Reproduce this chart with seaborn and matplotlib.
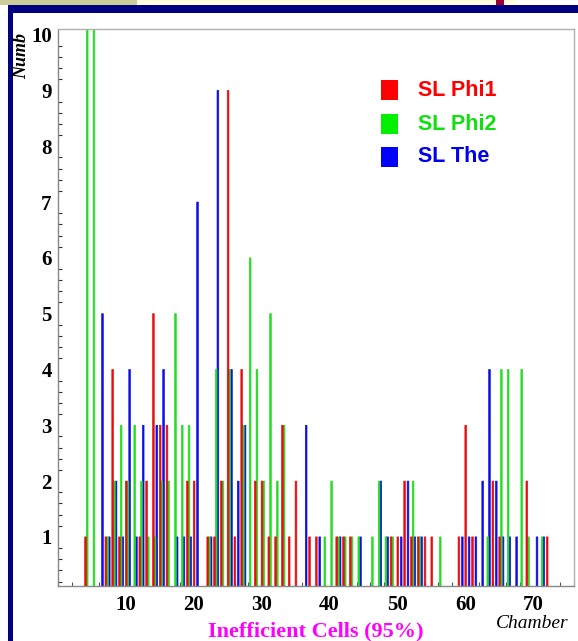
import numpy as np
import pandas as pd
import matplotlib
matplotlib.use("Agg")
import matplotlib.pyplot as plt
from matplotlib.patches import Rectangle
from matplotlib.ticker import MultipleLocator
import seaborn as sns

# ---------------- data ----------------
series_names = ["SL Phi1", "SL Phi2", "SL The"]

phi1_chambers = [4, 7, 8, 9, 10, 12, 13, 14, 15, 16, 19, 20, 22, 23, 24, 25, 26, 27,
                 29, 30, 31, 32, 33, 34, 35, 37, 38, 41, 42, 43, 49, 50, 51, 52, 53,
                 54, 55, 59, 60, 61, 64, 65, 69, 72]
phi1_counts = [1, 1, 4, 1, 2, 1, 2, 5, 3, 3, 2, 2, 1, 1, 2, 9, 1, 4,
               2, 2, 1, 1, 3, 1, 2, 1, 1, 1, 1, 1, 1, 1, 2, 1, 1,
               1, 1, 1, 3, 1, 2, 1, 2, 1]

phi2_chambers = [4, 5, 7, 8, 9, 10, 11, 12, 13, 14, 15, 16, 17, 18, 19, 22, 23, 24,
                 25, 27, 28, 29, 30, 31, 32, 33, 39, 40, 41, 42, 43, 44, 46, 47, 48,
                 49, 52, 53, 56, 63, 65, 66, 68, 69, 71]
phi2_counts = [12, 12, 1, 2, 3, 2, 3, 2, 1, 1, 2, 2, 5, 3, 3, 1, 4, 2,
               4, 3, 6, 4, 2, 5, 2, 3, 1, 2, 1, 1, 1, 1, 1, 2, 1,
               1, 2, 1, 1, 1, 4, 4, 4, 1, 1]

the_chambers = [6, 7, 8, 9, 10, 11, 12, 14, 15, 17, 18, 19, 20, 22, 23, 25, 26, 27,
                36, 38, 41, 44, 47, 48, 50, 51, 52, 53, 59, 60, 61, 62, 63, 64, 65,
                66, 67, 70, 71]
the_counts = [5, 1, 2, 1, 4, 1, 3, 3, 4, 1, 1, 1, 7, 1, 9, 4, 2, 3,
              3, 1, 1, 1, 2, 1, 1, 2, 1, 1, 1, 1, 1, 2, 4, 2, 1,
              1, 1, 1, 1]

y_ticks = [1, 2, 3, 4, 5, 6, 7, 8, 9, 10]
x_ticks = [10, 20, 30, 40, 50, 60, 70]

df = pd.concat([
    pd.DataFrame({"chamber": phi1_chambers, "count": phi1_counts, "series": series_names[0]}),
    pd.DataFrame({"chamber": phi2_chambers, "count": phi2_counts, "series": series_names[1]}),
    pd.DataFrame({"chamber": the_chambers, "count": the_counts, "series": series_names[2]}),
], ignore_index=True)

# ---------------- style ----------------
sns.set_theme(style="white")
plt.rcParams["font.family"] = ["Liberation Serif", "DejaVu Serif"]

bar_colors = {"SL Phi1": "#e80c0c", "SL Phi2": "#22dd22", "SL The": "#0c0ce8"}
legend_box_colors = ["#ff0000", "#00f000", "#0000ff"]
legend_text_colors = ["#ff0000", "#10e010", "#0000ee"]

W, H = 578, 641
fig = plt.figure(figsize=(W / 100, H / 100), dpi=100)
fig.patch.set_facecolor("white")

def px_rect(x0, y0, x1, y1, color):
    fig.add_artist(Rectangle((x0 / W, 1 - y1 / H), (x1 - x0) / W, (y1 - y0) / H,
                             transform=fig.transFigure, facecolor=color,
                             edgecolor="none", zorder=0))

# window decoration
px_rect(0, 0, 137, 5, "#cccc99")
px_rect(137, 0, 516, 5, "#ffffe0")
px_rect(496, 0, 504, 5, "#990033")
px_rect(8, 5, W, 13, "#000080")
px_rect(8, 5, 13, H, "#000080")

ax = fig.add_axes([58 / W, 1 - 586 / H, (574 - 58) / W, (586 - 29) / H])
ax.set_facecolor("white")

sns.histplot(data=df, x="chamber", weights="count", hue="series",
             hue_order=series_names, palette=bar_colors,
             binwidth=1.0, binrange=(-0.2, 76.8), multiple="dodge", shrink=0.75,
             linewidth=0, alpha=1.0, legend=False, ax=ax)

# make the thin bars render as solid coloured strokes
for p in ax.patches:
    fc = p.get_facecolor()
    p.set_edgecolor(fc)
    p.set_linewidth(0.45)
    p.set_snap(False)
    p.set_antialiased(True)

ax.set_xlim(0, 76)
ax.set_ylim(0.12, 10.1)
ax.set_xlabel("")
ax.set_ylabel("")

ax.set_yticks(y_ticks)
ax.set_yticklabels([str(v) for v in y_ticks])
ax.yaxis.set_minor_locator(MultipleLocator(0.2))
ax.set_xticks(x_ticks)
ax.set_xticklabels([str(v) for v in x_ticks])
ax.xaxis.set_minor_locator(MultipleLocator(2))

ax.tick_params(axis="y", which="major", direction="in", length=7.5, width=1,
               color="#333333", pad=4.5, labelsize=15)
ax.tick_params(axis="y", which="minor", direction="in", length=3, width=0.8,
               color="#333333", left=True)
ax.tick_params(axis="x", which="major", direction="in", length=5, width=1,
               color="#333333", pad=6.5, labelsize=15)
ax.tick_params(axis="x", which="minor", direction="in", length=3, width=0.8,
               color="#555555", bottom=True)
for lab in ax.get_xticklabels() + ax.get_yticklabels():
    lab.set_fontweight("bold")
    lab.set_color("black")

for side, sp in ax.spines.items():
    sp.set_color("#b0b0b0")
    sp.set_linewidth(1.0)
ax.spines["bottom"].set_color("#888888")
ax.spines["left"].set_color("#888888")

# axis titles
fig.text(22 / W, 1 - 33 / H, "Numb", rotation=90, ha="center", va="top",
         fontsize=13, fontweight="bold", fontstyle="italic", color="black")
fig.text(569 / W, 1 - 628 / H, "Chamber", ha="right", va="baseline",
         fontsize=14, fontstyle="italic", color="black")
fig.text(316 / W, 1 - 636 / H, "Inefficient Cells (95%)", ha="center", va="baseline",
         fontsize=16, fontweight="bold", color="#ff00ff")

# legend
legend_y = [90, 124, 157]
for name, yc, bc, tc in zip(series_names, legend_y, legend_box_colors, legend_text_colors):
    fig.add_artist(Rectangle((381 / W, 1 - (yc + 10) / H), 17 / W, 20 / H,
                             transform=fig.transFigure, facecolor=bc,
                             edgecolor="none"))
    fig.text(418 / W, 1 - yc / H, name, ha="left", va="center",
             fontsize=15.5, fontweight="bold", color=tc,
             family=["Liberation Sans", "DejaVu Sans"])

fig.savefig("out.png", dpi=100)
